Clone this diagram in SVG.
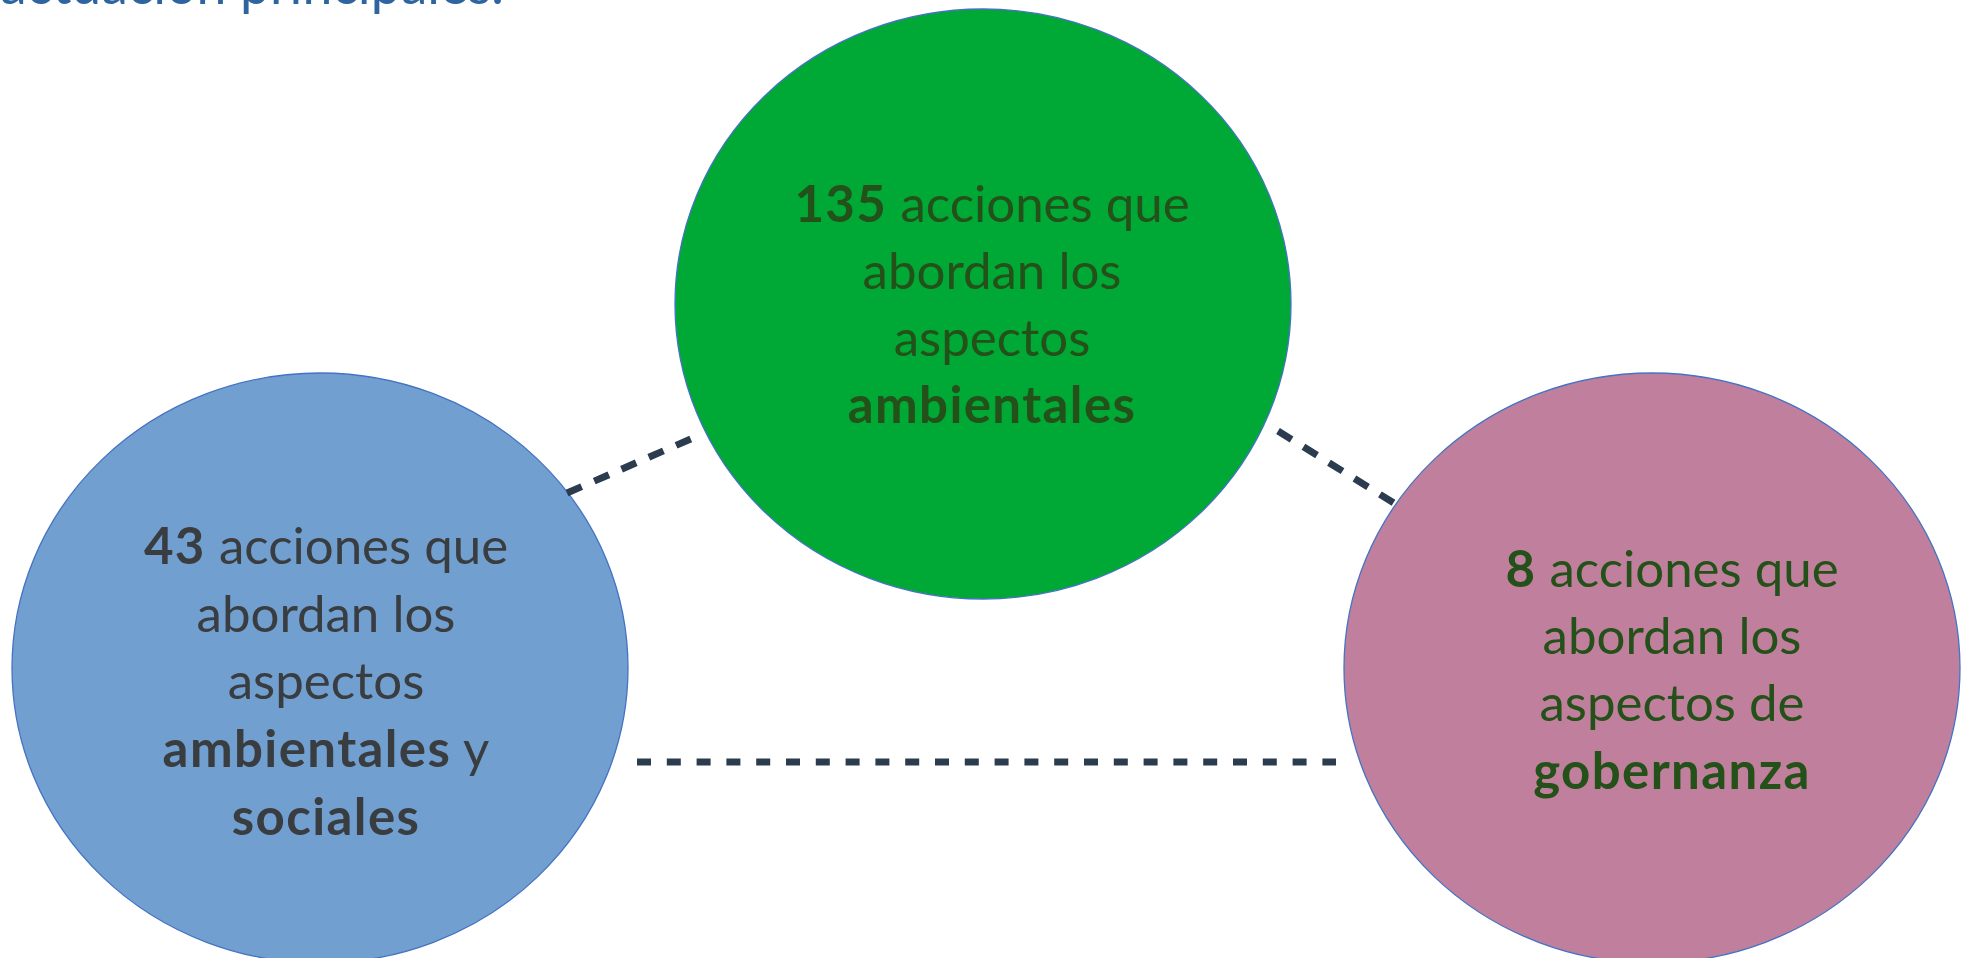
<svg xmlns="http://www.w3.org/2000/svg" width="1971" height="958" viewBox="0 0 1971 958">
<style>
.t{font-family:Lato,"Noto Sans",sans-serif;font-size:51px;text-anchor:middle}
.b{font-weight:700;letter-spacing:1.4px}
.node{stroke:#4472C4;stroke-width:1.3}
.dash{stroke:#2B3C4E;stroke-width:7;fill:none}
.gt{fill:#245019}
.bt{fill:#393D40}
</style>
<rect width="1971" height="958" fill="#ffffff"/>
<text x="0" y="4" font-family="Lato, sans-serif" font-size="57" fill="#2E65A1" textLength="504" lengthAdjust="spacingAndGlyphs">actuación principales.</text>
<g id="node-ambientales">
<ellipse class="node" cx="983" cy="304" rx="308" ry="295" fill="#00A835"/>
<text class="t gt" x="992" y="222"><tspan class="b">135</tspan> acciones que</text>
<text class="t gt" x="992" y="289">abordan los</text>
<text class="t gt" x="992" y="356">aspectos</text>
<text class="t gt b" x="992" y="423">ambientales</text>
</g>
<g id="node-sociales">
<ellipse class="node" cx="320" cy="668" rx="308" ry="295" fill="#719FD0"/>
<text class="t bt" x="326" y="564"><tspan class="b">43</tspan> acciones que</text>
<text class="t bt" x="326" y="632">abordan los</text>
<text class="t bt" x="326" y="699">aspectos</text>
<text class="t bt" x="326" y="767"><tspan class="b">ambientales</tspan> y</text>
<text class="t bt b" x="326" y="835">sociales</text>
</g>
<g id="node-gobernanza">
<ellipse class="node" cx="1652" cy="668" rx="308" ry="295" fill="#C0809D"/>
<text class="t gt" x="1672" y="587"><tspan class="b">8</tspan> acciones que</text>
<text class="t gt" x="1672" y="654">abordan los</text>
<text class="t gt" x="1672" y="721">aspectos de</text>
<text class="t gt b" x="1672" y="789">gobernanza</text>
</g>
<g id="connectors">
<line class="dash" x1="567" y1="493" x2="693" y2="438" stroke-dasharray="16 13.75"/>
<line class="dash" x1="1278" y1="431" x2="1397" y2="505" stroke-dasharray="16 14"/>
<line class="dash" x1="637" y1="762" x2="1336" y2="762" stroke-dasharray="14 15.8"/>
</g>
</svg>
